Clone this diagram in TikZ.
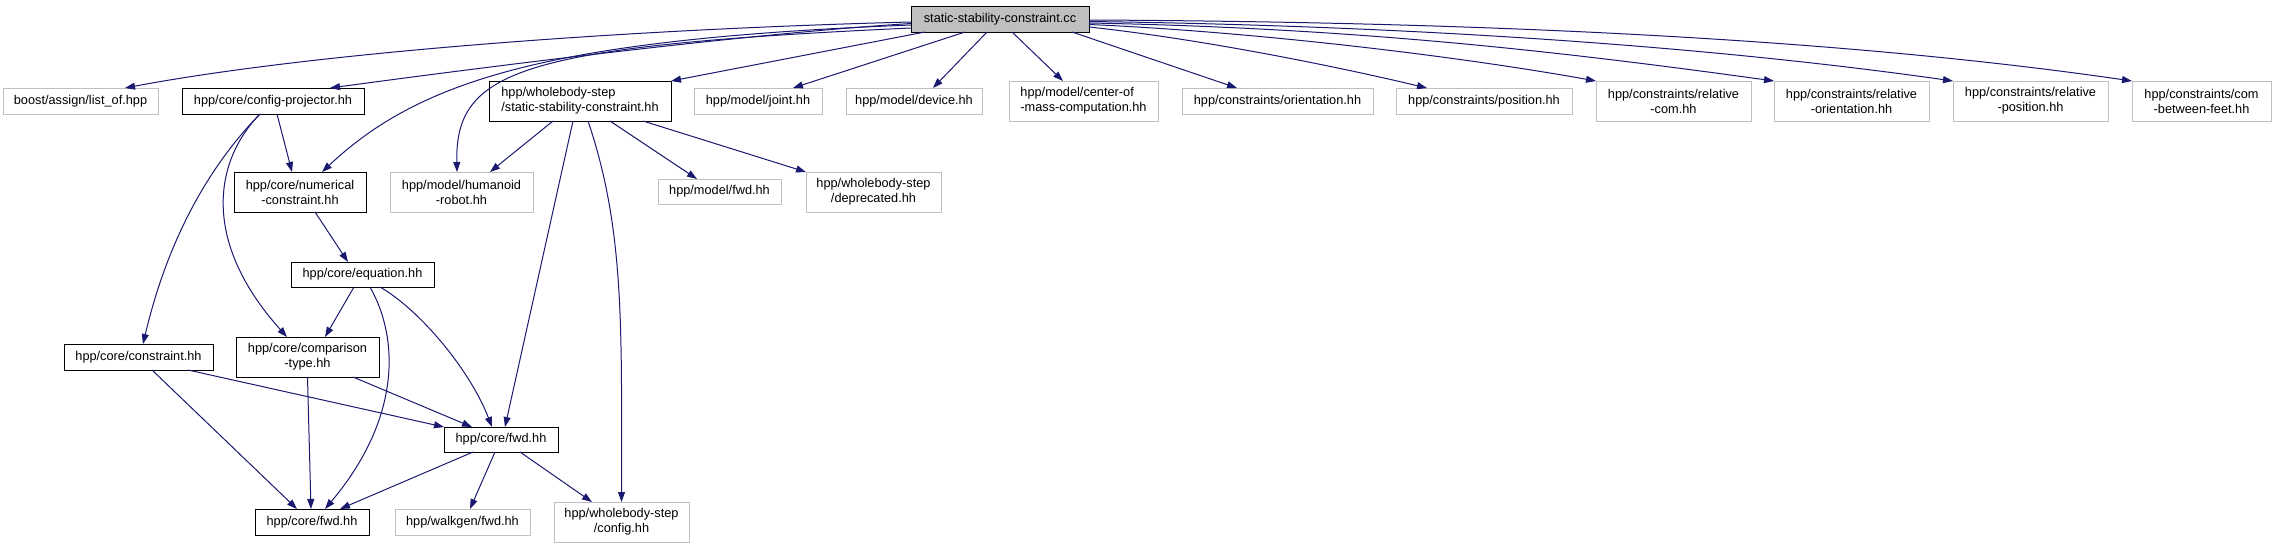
\documentclass[tikz,border=0pt]{standalone}
\usepackage{fontspec}
\setmainfont{Liberation Sans}
\usetikzlibrary{arrows.meta}
\definecolor{edgecol}{HTML}{191970}
\definecolor{greycol}{HTML}{BFBFBF}

\begin{document}
\begin{tikzpicture}[x=1pt,y=-1pt,
  box/.style={rectangle,inner sep=0pt,outer sep=0pt,line width=1pt,align=center,font=\fontsize{12.75}{15}\selectfont},
  sz/.style 2 args={minimum width=#1pt,minimum height=#2pt},
  hdr/.style={box,draw=black},
  ext/.style={box,draw=greycol},
  incl/.style={edgecol,line width=1pt,-{Triangle[length=10pt,width=7pt]}}]
  \useasboundingbox (0,0) rectangle (2276,549);
  \node[hdr,fill=greycol,sz={178}{26}] (root) at (1000,19) {static-stability-constraint.cc};
  \node[ext,sz={155}{26}] (boost) at (80.5,101) {boost/assign/list\_of.hpp};
  \node[hdr,sz={182}{26}] (cfgproj) at (273,101) {hpp/core/config-projector.hh};
  \node[hdr,sz={182}{40},align=left] (statstab) at (580,101) {hpp/wholebody-step\\/static-stability-constraint.hh};
  \node[ext,sz={128}{26}] (joint) at (758,101) {hpp/model/joint.hh};
  \node[ext,sz={136}{26}] (device) at (914,101) {hpp/model/device.hh};
  \node[ext,sz={149}{40},align=left] (com) at (1083.5,101) {hpp/model/center-of\\-mass-computation.hh};
  \node[ext,sz={191}{26}] (orient) at (1277.5,101) {hpp/constraints/orientation.hh};
  \node[ext,sz={176}{26}] (pos) at (1484,101) {hpp/constraints/position.hh};
  \node[ext,sz={155}{40}] (relcom) at (1673.5,101) {hpp/constraints/relative\\-com.hh};
  \node[ext,sz={155}{40}] (relorient) at (1851.5,101) {hpp/constraints/relative\\-orientation.hh};
  \node[ext,sz={155}{40}] (relpos) at (2030.5,101) {hpp/constraints/relative\\-position.hh};
  \node[ext,sz={139}{40}] (comfeet) at (2201.5,101) {hpp/constraints/com\\-between-feet.hh};
  \node[hdr,sz={132}{40}] (numcons) at (300,192) {hpp/core/numerical\\-constraint.hh};
  \node[ext,sz={143}{40}] (humanoid) at (461.5,192) {hpp/model/humanoid\\-robot.hh};
  \node[ext,sz={123}{25}] (modelfwd) at (719.5,191.5) {hpp/model/fwd.hh};
  \node[ext,sz={135}{40}] (deprec) at (873.5,192) {hpp/wholebody-step\\/deprecated.hh};
  \node[hdr,sz={143}{25}] (equation) at (362.5,274.5) {hpp/core/equation.hh};
  \node[hdr,sz={149}{26}] (constraint) at (138.5,357) {hpp/core/constraint.hh};
  \node[hdr,sz={143}{40}] (comparison) at (307.5,357) {hpp/core/comparison\\-type.hh};
  \node[hdr,sz={114}{25}] (corefwdA) at (501,439.5) {hpp/core/fwd.hh};
  \node[hdr,sz={114}{26}] (corefwdB) at (312,522) {hpp/core/fwd.hh};
  \node[ext,sz={135}{26}] (walkgen) at (462.5,522) {hpp/walkgen/fwd.hh};
  \node[ext,sz={135}{40}] (wbconfig) at (621.5,522) {hpp/wholebody-step\\/config.hh};

  \draw[incl] ([yshift=-3pt]root.west) .. controls +(-311,8) and +(175,-33) .. ([xshift=44.5pt]boost.north);
  \draw[incl] ([yshift=-4.5pt]root.west) .. controls +(-161,10) and +(170,-23) .. ([xshift=57pt]cfgproj.north);
  \draw[incl] ([yshift=-6pt]root.west) .. controls +(-361,14) and +(98,-92) .. ([xshift=22pt]numcons.north);
  \draw[incl] ([yshift=-9pt]root.west) .. controls +(-391,18) and +(-2,-102) .. ([xshift=-4.5pt]humanoid.north);
  \draw[incl] ([xshift=14pt]root.south west) -- (statstab.north east);
  \draw[incl] ([xshift=-35pt]root.south) -- ([xshift=35pt]joint.north);
  \draw[incl] ([xshift=-13pt]root.south) -- ([xshift=19pt]device.north);
  \draw[incl] ([xshift=12pt]root.south) -- ([xshift=-20.5pt]com.north);
  \draw[incl] ([xshift=72pt]root.south) -- ([xshift=-40.5pt]orient.north);
  \draw[incl] ([yshift=-8pt]root.east) .. controls +(111,12) and +(-97,-23) .. ([xshift=-57pt]pos.north);
  \draw[incl] ([yshift=-5.5pt]root.east) .. controls +(160,7) and +(-145,-26) .. (relcom.north west);
  \draw[incl] ([yshift=-4pt]root.east) .. controls +(261,5) and +(-224,-31) .. (relorient.north west);
  \draw[incl] ([yshift=-2.5pt]root.east) .. controls +(311,4) and +(-253,-36) .. (relpos.north west);
  \draw[incl] ([yshift=-1pt]root.east) .. controls +(411,2) and +(-282,-41) .. (comfeet.north west);

  \draw[incl] ([xshift=4pt]cfgproj.south) -- ([xshift=-8pt]numcons.north);
  \draw[incl] ([xshift=-13pt]cfgproj.south) .. controls +(-45,46) and +(27,-114) .. ([xshift=4.5pt]constraint.north);
  \draw[incl] ([xshift=-13pt]cfgproj.south) .. controls +(-45,46) and +(-87,-97) .. ([xshift=-20.5pt]comparison.north);

  \draw[incl] ([xshift=-27pt]statstab.south) -- ([xshift=28.5pt]humanoid.north);
  \draw[incl] ([xshift=-7pt]statstab.south) -- ([xshift=4pt]corefwdA.north);
  \draw[incl] ([xshift=8pt]statstab.south) .. controls +(37,109) and +(0,-172) .. (wbconfig.north);
  \draw[incl] ([xshift=30pt]statstab.south) -- ([xshift=-22.5pt]modelfwd.north);
  \draw[incl] ([xshift=63pt]statstab.south) -- (deprec.north west);

  \draw[incl] ([xshift=15pt]numcons.south) -- ([xshift=-14.5pt]equation.north);
  \draw[incl] ([xshift=-8.5pt]equation.south) -- ([xshift=17.5pt]comparison.north);
  \draw[incl] ([xshift=7.5pt]equation.south) .. controls +(30,53) and +(75,-89) .. ([xshift=13pt]corefwdB.north);
  \draw[incl] ([xshift=17.5pt]equation.south) .. controls +(40,23) and +(-22,-57) .. ([xshift=-9pt]corefwdA.north);

  \draw[incl] ([xshift=49.5pt]constraint.south) -- (corefwdA.north west);
  \draw[incl] ([xshift=13.5pt]constraint.south) -- ([xshift=-15pt]corefwdB.north);
  \draw[incl] (comparison.south) -- ([xshift=-1pt]corefwdB.north);
  \draw[incl] ([xshift=45.5pt]comparison.south) -- ([xshift=-29pt]corefwdA.north);

  \draw[incl] ([xshift=-28pt]corefwdA.south) -- ([xshift=28pt]corefwdB.north);
  \draw[incl] ([xshift=-6pt]corefwdA.south) -- ([xshift=7.5pt]walkgen.north);
  \draw[incl] ([xshift=19pt]corefwdA.south) -- ([xshift=-29.5pt]wbconfig.north);
\end{tikzpicture}
\end{document}
